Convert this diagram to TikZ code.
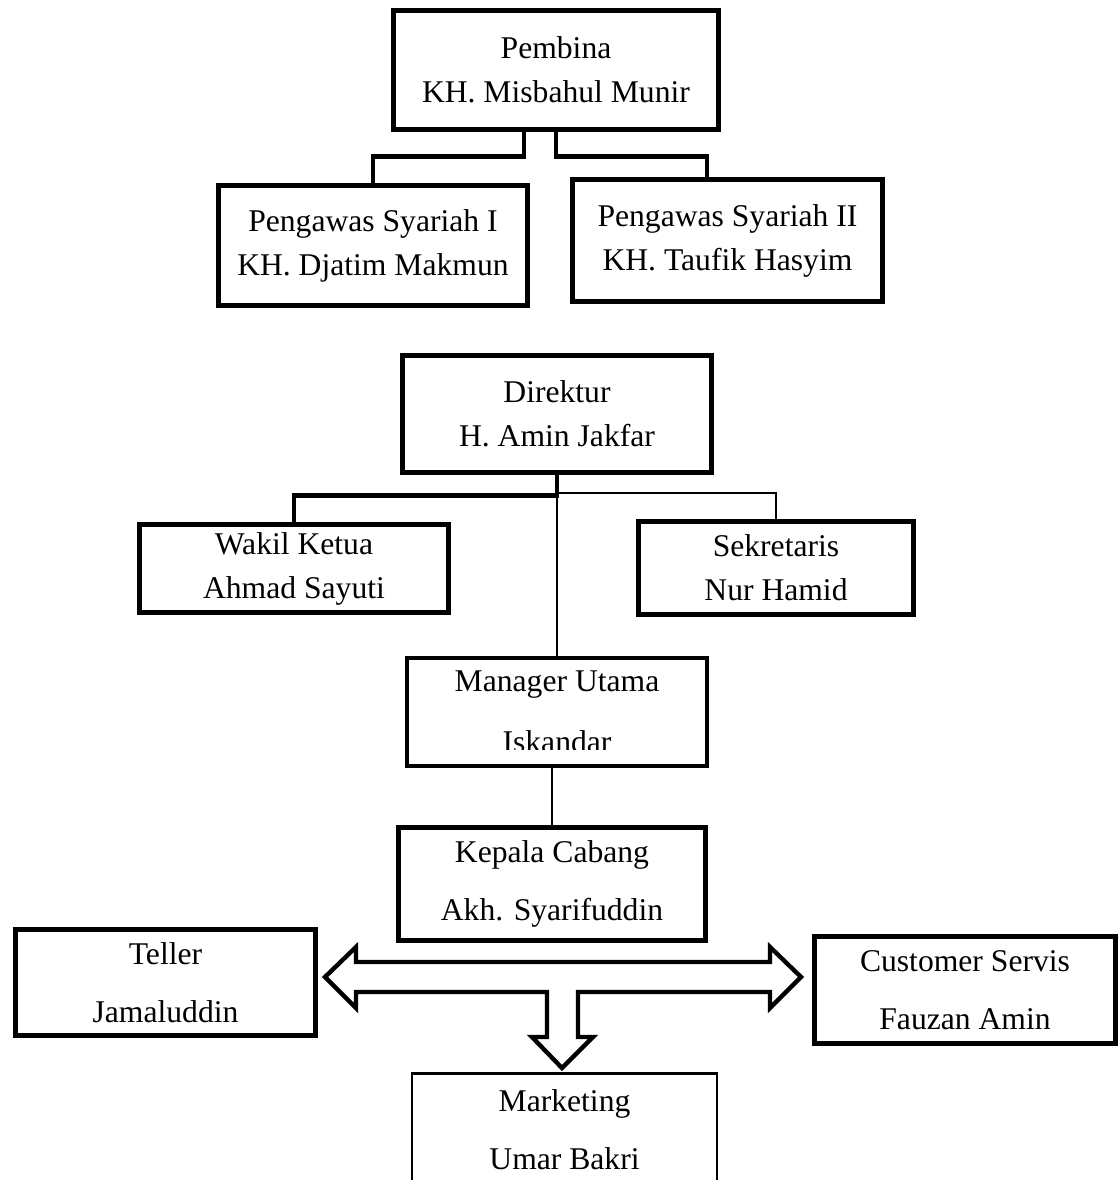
\documentclass[tikz,border=0pt]{standalone}
\usepackage{fontspec}
\setmainfont{Liberation Serif}
\usepackage{tikz}
\usetikzlibrary{positioning}

\begin{document}
\begin{tikzpicture}[
			x=0.02cm, y=-0.02cm,
			box/.style={
				rectangle,
				draw,
				align=center,
				inner sep=0pt,
				line width=2.5pt,
				font=\fontsize{18}{25}\selectfont
			},
			wide/.style={
				font=\fontsize{18}{33}\selectfont
			},
			thinbox/.style={
				line width=1.3pt
			},
			link/.style={
				line width=2.5pt
			},
			thinlink/.style={
				line width=1pt
			},
			bigarrow/.style={
				draw,
				fill=white,
				line width=2.5pt,
				line join=miter
			}
			]
			
			\clip (0,0) rectangle (1119,1180);
			
			% Pembina
			\node[box, minimum width=6.5cm, minimum height=2.38cm] (pembina) at (556,70) {Pembina\\KH. Misbahul Munir};
			
			% Pengawas Syariah
			\node[box, minimum width=6.18cm, minimum height=2.4cm] (ps1) at (373,245.5) {Pengawas Syariah I\\KH. Djatim Makmun};
			\node[box, minimum width=6.2cm, minimum height=2.44cm] (ps2) at (727.5,240.5) {Pengawas Syariah II\\KH. Taufik Hasyim};
			
			\draw[link] ([xshift=-0.64cm]pembina.south) -- ++(0,25) -| (ps1.north);
			\draw[link] (pembina.south) -- ++(0,25) -| ([xshift=-0.41cm]ps2.north);
			
			% Direktur
			\node[box, minimum width=6.18cm, minimum height=2.34cm] (direktur) at (557,414) {Direktur\\H. Amin Jakfar};
			
			% Wakil Ketua and Sekretaris
			\node[box, minimum width=6.18cm, minimum height=1.76cm] (wakil) at (294,568.5) {Wakil Ketua\\Ahmad Sayuti};
			\node[box, minimum width=5.5cm, minimum height=1.86cm] (sekretaris) at (776,568) {Sekretaris\\Nur Hamid};
			
			\draw[link] (direktur.south) -- ++(0,21) -| (wakil.north);
			\draw[thinlink] ([yshift=-0.36cm]direktur.south) -| (sekretaris.north);
			
			% Manager Utama (last line cut by the frame)
			\node[box, font=\fontsize{18}{35}\selectfont, minimum width=6.0cm, minimum height=2.16cm] (manager) at (557,712) {Manager Utama\\Iskandar};
			\fill[white] ([xshift=2.6pt, yshift=2.6pt]manager.south west) rectangle ([xshift=-2.6pt, yshift=0.37cm]manager.south east);
			
			\draw[thinlink] (direktur.south) -- (manager.north);
			
			% Kepala Cabang
			\node[box, wide, minimum width=6.14cm, minimum height=2.26cm] (kepala) at (552,884) {Kepala Cabang\\Akh. Syarifuddin};
			
			\draw[thinlink] (manager.south -| kepala.north) -- (kepala.north);
			
			% Teller, Customer Servis, Marketing
			\node[box, wide, minimum width=6.0cm, minimum height=2.12cm] (teller) at (165.5,982.5) {Teller\\Jamaluddin};
			\node[box, wide, minimum width=6.02cm, minimum height=2.14cm] (customer) at (965,990) {Customer Servis\\Fauzan Amin};
			\node[box, wide, thinbox, minimum width=6.1cm, minimum height=2.26cm] (marketing) at (564.5,1130) {Marketing\\Umar Bakri};
			
			% Block arrow
			\draw[bigarrow] (325,977) -- (356,947) -- (356,962) -- (770,962) -- (770,947) -- (801,977)
				-- (770,1008) -- (770,992) -- (578,992) -- (578,1037) -- (593,1037) -- (562,1068)
				-- (532,1037) -- (547,1037) -- (547,992) -- (356,992) -- (356,1008) -- cycle;
			
		\end{tikzpicture}
\end{document}
